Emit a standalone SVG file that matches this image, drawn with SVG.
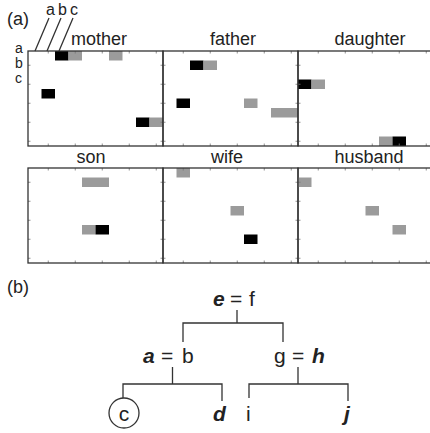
<svg xmlns="http://www.w3.org/2000/svg" xmlns:xlink="http://www.w3.org/1999/xlink" width="430" height="433" viewBox="0 0 430 433">
<style>
text{font-family:"Liberation Sans",Arial,Helvetica,sans-serif;fill:#222}
.lbl{font-size:18px}
.sm{font-size:16px}
.xs{font-size:14px}
.tree{font-size:21px}
.bi{font-weight:bold;font-style:italic}
.frame{fill:none;stroke:#333;stroke-width:1.3}
.tick{fill:none;stroke:#777;stroke-width:0.8}
.k{fill:#000}
.g{fill:#9b9b9b}
.ln{fill:none;stroke:#333;stroke-width:1.3}
</style>
<defs>
<path id="ticks" class="tick" d="M0,14.25h2.5M0,33.25h2.5M0,52.25h2.5M0,71.25h2.5M0,90.25h2.5M135,14.25h-2.5M135,33.25h-2.5M135,52.25h-2.5M135,71.25h-2.5M135,90.25h-2.5M20.25,0v2.5M47.25,0v2.5M74.25,0v2.5M101.25,0v2.5M128.25,0v2.5M20.25,95v-2.5M47.25,95v-2.5M74.25,95v-2.5M101.25,95v-2.5M128.25,95v-2.5"/>
</defs>
<rect width="430" height="433" fill="#fff"/>
<text class="lbl" x="7" y="25">(a)</text>
<g id="index-labels">
<text class="sm" x="46" y="15">a</text>
<text class="sm" x="58" y="15">b</text>
<text class="sm" x="70" y="15">c</text>
<text class="xs" x="15" y="53">a</text>
<text class="xs" x="15" y="68">b</text>
<text class="xs" x="15" y="83">c</text>
<path class="ln" d="M49,18L35,51M61,18L47,51M73,18L59,51" stroke-width="1"/>
</g>
<g id="panel-mother">
<text class="lbl" x="99" y="45" text-anchor="middle">mother</text>
<rect class="k" x="55" y="51" width="13.5" height="9.5"/>
<rect class="g" x="68.5" y="51" width="13.5" height="9.5"/>
<rect class="g" x="109" y="51" width="13.5" height="9.5"/>
<rect class="k" x="41.5" y="89" width="13.5" height="9.5"/>
<rect class="k" x="136" y="117.5" width="13.5" height="9.5"/>
<rect class="g" x="149.5" y="117.5" width="13.5" height="9.5"/>
<use xlink:href="#ticks" x="28" y="51"/>
<rect class="frame" x="28" y="51" width="135" height="95"/>
</g>
<g id="panel-father">
<text class="lbl" x="233" y="45" text-anchor="middle">father</text>
<rect class="k" x="190" y="60.5" width="13.5" height="9.5"/>
<rect class="g" x="203.5" y="60.5" width="13.5" height="9.5"/>
<rect class="k" x="176.5" y="98.5" width="13.5" height="9.5"/>
<rect class="g" x="244" y="98.5" width="13.5" height="9.5"/>
<rect class="g" x="271" y="108" width="27" height="9.5"/>
<use xlink:href="#ticks" x="163" y="51"/>
<rect class="frame" x="163" y="51" width="135" height="95"/>
</g>
<g id="panel-daughter">
<text class="lbl" x="370" y="45" text-anchor="middle">daughter</text>
<rect class="k" x="298" y="79.5" width="13.5" height="9.5"/>
<rect class="g" x="311.5" y="79.5" width="13.5" height="9.5"/>
<rect class="g" x="379" y="136.5" width="13.5" height="9.5"/>
<rect class="k" x="392.5" y="136.5" width="13.5" height="9.5"/>
<use xlink:href="#ticks" x="298" y="51"/>
<rect class="frame" x="298" y="51" width="135" height="95"/>
</g>
<g id="panel-son">
<text class="lbl" x="91" y="163" text-anchor="middle">son</text>
<rect class="g" x="82" y="177.5" width="27" height="9.5"/>
<rect class="g" x="82" y="225" width="13.5" height="9.5"/>
<rect class="k" x="95.5" y="225" width="13.5" height="9.5"/>
<use xlink:href="#ticks" x="28" y="168"/>
<rect class="frame" x="28" y="168" width="135" height="95"/>
</g>
<g id="panel-wife">
<text class="lbl" x="227" y="163" text-anchor="middle">wife</text>
<rect class="g" x="176.5" y="168" width="13.5" height="9.5"/>
<rect class="g" x="230.5" y="206" width="13.5" height="9.5"/>
<rect class="k" x="244" y="234.5" width="13.5" height="9.5"/>
<use xlink:href="#ticks" x="163" y="168"/>
<rect class="frame" x="163" y="168" width="135" height="95"/>
</g>
<g id="panel-husband">
<text class="lbl" x="369" y="163" text-anchor="middle">husband</text>
<rect class="g" x="298" y="177.5" width="13.5" height="9.5"/>
<rect class="g" x="365.5" y="206" width="13.5" height="9.5"/>
<rect class="g" x="392.5" y="225" width="13.5" height="9.5"/>
<use xlink:href="#ticks" x="298" y="168"/>
<rect class="frame" x="298" y="168" width="135" height="95"/>
</g>
<text class="lbl" x="7" y="293">(b)</text>
<g id="connectors">
<path class="ln" d="M237,310V323M183,342V323H283V342"/>
<path class="ln" d="M172.5,367V384M123,398V384H222V401"/>
<path class="ln" d="M298,367V384M249,398V384H348V401"/>
</g>
<g id="node-ef">
<text class="tree" y="306"><tspan class="bi" x="213">e</tspan><tspan x="230">=</tspan><tspan x="249">f</tspan></text>
</g>
<g id="node-ab">
<text class="tree" y="363"><tspan class="bi" x="143">a</tspan><tspan x="161">=</tspan><tspan x="182">b</tspan></text>
</g>
<g id="node-gh">
<text class="tree" y="363"><tspan x="274">g</tspan><tspan x="292">=</tspan><tspan class="bi" x="312">h</tspan></text>
</g>
<g id="node-c">
<circle class="ln" cx="124" cy="413" r="15"/>
<text class="tree" x="124" y="420.5" text-anchor="middle">c</text>
</g>
<g id="node-d"><text class="tree bi" x="213" y="421">d</text></g>
<g id="node-i"><text class="tree" x="246" y="421">i</text></g>
<g id="node-j"><text class="tree bi" x="344" y="421">j</text></g>
</svg>
